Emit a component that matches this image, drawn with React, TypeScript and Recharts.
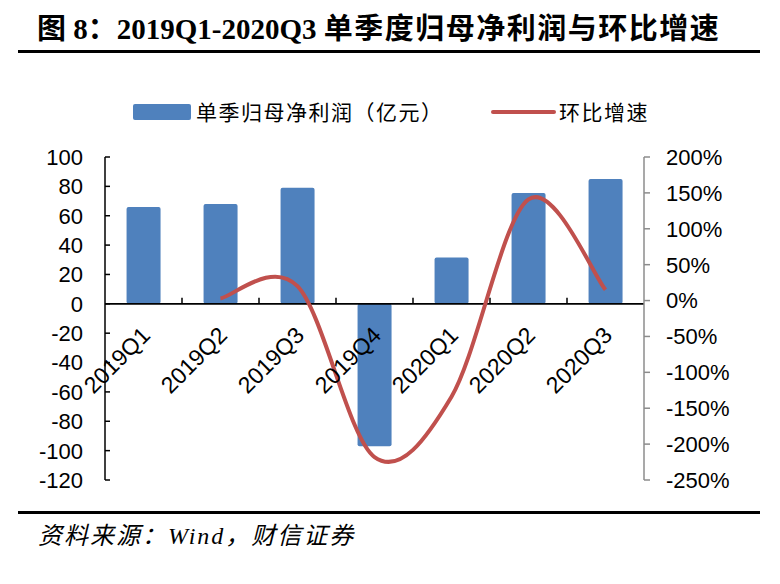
import React from "react";
import {
  ComposedChart,
  Bar,
  Line,
  XAxis,
  YAxis,
  ReferenceLine,
} from "recharts";

const categories = ["2019Q1", "2019Q2", "2019Q3", "2019Q4", "2020Q1", "2020Q2", "2020Q3"];
const profitValues = [66, 68, 79, -97, 31.5, 75.5, 85];
const qoqGrowth: (number | null)[] = [null, 3, 20, -218, -134, 141, 15];
const leftTicks = [100, 80, 60, 40, 20, 0, -20, -40, -60, -80, -100, -120];
const rightTicks = [200, 150, 100, 50, 0, -50, -100, -150, -200, -250];

const TITLE_A = "图 8：2019Q1-2020Q3 ";
const TITLE_B = "单季度归母净利润与环比增速";
const SOURCE = "资料来源：Wind，财信证券";
const BAR_NAME = "单季归母净利润（亿元）";
const LINE_NAME = "环比增速";

const data = categories.map((c, i) => ({
  name: c,
  profit: profitValues[i],
  growth: qoqGrowth[i],
}));

const W = 780;
const H = 584;
const PLOT_LEFT = 105;
const PLOT_RIGHT = 644;
const PLOT_TOP = 157;
const PLOT_BOTTOM = 480;
const Y_AXIS_W = 60;
const X_AXIS_H = 30;
const LEFT_MIN = -120;
const LEFT_MAX = 100;
const RIGHT_MIN = -250;
const RIGHT_MAX = 200;
const ZERO_Y = PLOT_TOP + ((LEFT_MAX - 0) / (LEFT_MAX - LEFT_MIN)) * (PLOT_BOTTOM - PLOT_TOP);
const BAND = (PLOT_RIGHT - PLOT_LEFT) / categories.length;

const BLUE = "#4F81BD";
const RED = "#C0504D";
const AXIS_FONT = "'Liberation Sans', Arial, 'Noto Sans CJK SC', sans-serif";
const CJK_FONT = "'Noto Sans CJK SC', 'Liberation Sans', sans-serif";

// Catmull-Rom style smoothing, like Excel's smoothed line
function smoothCurve(context: any) {
  let pts: number[][] = [];
  return {
    areaStart() {},
    areaEnd() {},
    lineStart() {
      pts = [];
    },
    lineEnd() {
      if (!pts.length) return;
      context.moveTo(pts[0][0], pts[0][1]);
      for (let i = 0; i < pts.length - 1; i++) {
        const p0 = pts[i - 1] || pts[i];
        const p1 = pts[i];
        const p2 = pts[i + 1];
        const p3 = pts[i + 2] || pts[i + 1];
        const t = 1 / 6;
        context.bezierCurveTo(
          p1[0] + (p2[0] - p0[0]) * t,
          p1[1] + (p2[1] - p0[1]) * t,
          p2[0] - (p3[0] - p1[0]) * t,
          p2[1] - (p3[1] - p1[1]) * t,
          p2[0],
          p2[1]
        );
      }
    },
    point(x: number, y: number) {
      pts.push([+x, +y]);
    },
  };
}

const XTick = (props: any) => {
  const { x, payload, index } = props;
  const isLast = index === categories.length - 1;
  const ax = x + 8;
  const ay = ZERO_Y + 33;
  return (
    <g>
      {!isLast && (
        <line x1={x + BAND / 2} x2={x + BAND / 2} y1={ZERO_Y} y2={ZERO_Y - 6} stroke="#000" strokeWidth={1.5} />
      )}
      <text
        x={ax}
        y={ay}
        textAnchor="end"
        transform={`rotate(-45, ${ax}, ${ay})`}
        fontFamily={AXIS_FONT}
        fontSize={23}
        fill="#000"
      >
        {payload.value}
      </text>
    </g>
  );
};

const LeftTick = (props: any) => {
  const { y, payload } = props;
  return (
    <g>
      <line x1={PLOT_LEFT} x2={PLOT_LEFT + 5} y1={y} y2={y} stroke="#000" strokeWidth={1.5} />
      <text x={PLOT_LEFT - 22} y={y} dy="0.36em" textAnchor="end" fontFamily={AXIS_FONT} fontSize={22} fill="#000">
        {payload.value}
      </text>
    </g>
  );
};

const RightTick = (props: any) => {
  const { y, payload } = props;
  return (
    <g>
      <line x1={PLOT_RIGHT} x2={PLOT_RIGHT + 6} y1={y} y2={y} stroke="#8c8c8c" strokeWidth={1.5} />
      <text x={PLOT_RIGHT + 22} y={y} dy="0.36em" textAnchor="start" fontFamily={AXIS_FONT} fontSize={22} fill="#000">
        {`${payload.value}%`}
      </text>
    </g>
  );
};

export default function App() {
  return (
    <div style={{ position: "absolute", left: 0, top: 0, width: W, height: H, background: "#fff" }}>
      <div
        style={{
          position: "absolute",
          left: 37,
          top: 12,
          whiteSpace: "nowrap",
          fontFamily: "'Liberation Serif', 'Noto Sans CJK SC', serif",
          fontWeight: "bold",
          fontSize: 29,
          lineHeight: "34px",
          color: "#000",
        }}
      >
        {TITLE_A}
        <span style={{ letterSpacing: 1.5 }}>{TITLE_B}</span>
      </div>
      <div style={{ position: "absolute", left: 18, top: 50, width: 742, height: 3, background: "#000" }} />
      <div style={{ position: "absolute", left: 18, top: 511, width: 742, height: 3, background: "#000" }} />
      <div
        style={{
          position: "absolute",
          left: 38,
          top: 521,
          whiteSpace: "nowrap",
          fontFamily: "'Liberation Serif', 'Noto Sans CJK SC', serif",
          fontStyle: "italic",
          fontSize: 24,
          letterSpacing: 2,
          lineHeight: "30px",
          color: "#000",
        }}
      >
        {SOURCE}
      </div>
      <svg width={W} height={40} style={{ position: "absolute", left: 0, top: 96 }}>
        <rect x={133} y={8} width={58} height={16} rx={2} fill={BLUE} />
        <text x={196} y={16} dy="0.36em" fontFamily={CJK_FONT} fontSize={21} letterSpacing={1.5} fill="#000">
          {BAR_NAME}
        </text>
        <line x1={493} x2={554} y1={16} y2={16} stroke={RED} strokeWidth={4} strokeLinecap="round" />
        <text x={559} y={16} dy="0.36em" fontFamily={CJK_FONT} fontSize={21} letterSpacing={1.5} fill="#000">
          {LINE_NAME}
        </text>
      </svg>
      <div style={{ position: "absolute", left: 0, top: 0 }}>
        <ComposedChart
          width={W}
          height={H}
          data={data}
          margin={{
            top: PLOT_TOP,
            bottom: H - PLOT_BOTTOM - X_AXIS_H,
            left: PLOT_LEFT - Y_AXIS_W,
            right: W - PLOT_RIGHT - Y_AXIS_W,
          }}
          barCategoryGap="28%"
        >
          <XAxis
            dataKey="name"
            height={X_AXIS_H}
            axisLine={false}
            tickLine={false}
            tick={XTick}
            interval={0}
          />
          <YAxis
            yAxisId="left"
            orientation="left"
            type="number"
            width={Y_AXIS_W}
            domain={[LEFT_MIN, LEFT_MAX]}
            ticks={leftTicks}
            interval={0}
            axisLine={{ stroke: "#000", strokeWidth: 1.5 }}
            tickLine={false}
            tick={LeftTick}
          />
          <YAxis
            yAxisId="right"
            orientation="right"
            type="number"
            width={Y_AXIS_W}
            domain={[RIGHT_MIN, RIGHT_MAX]}
            ticks={rightTicks}
            interval={0}
            allowDataOverflow
            axisLine={{ stroke: "#8c8c8c", strokeWidth: 1.5 }}
            tickLine={false}
            tick={RightTick}
          />
          <Bar yAxisId="left" dataKey="profit" fill={BLUE} isAnimationActive={false} radius={2} />
          <ReferenceLine yAxisId="left" y={0} stroke="#000" strokeWidth={1.8} />
          <Line
            yAxisId="right"
            dataKey="growth"
            type={smoothCurve as any}
            stroke={RED}
            strokeWidth={4}
            dot={false}
            activeDot={false}
            isAnimationActive={false}
          />
        </ComposedChart>
      </div>
    </div>
  );
}
